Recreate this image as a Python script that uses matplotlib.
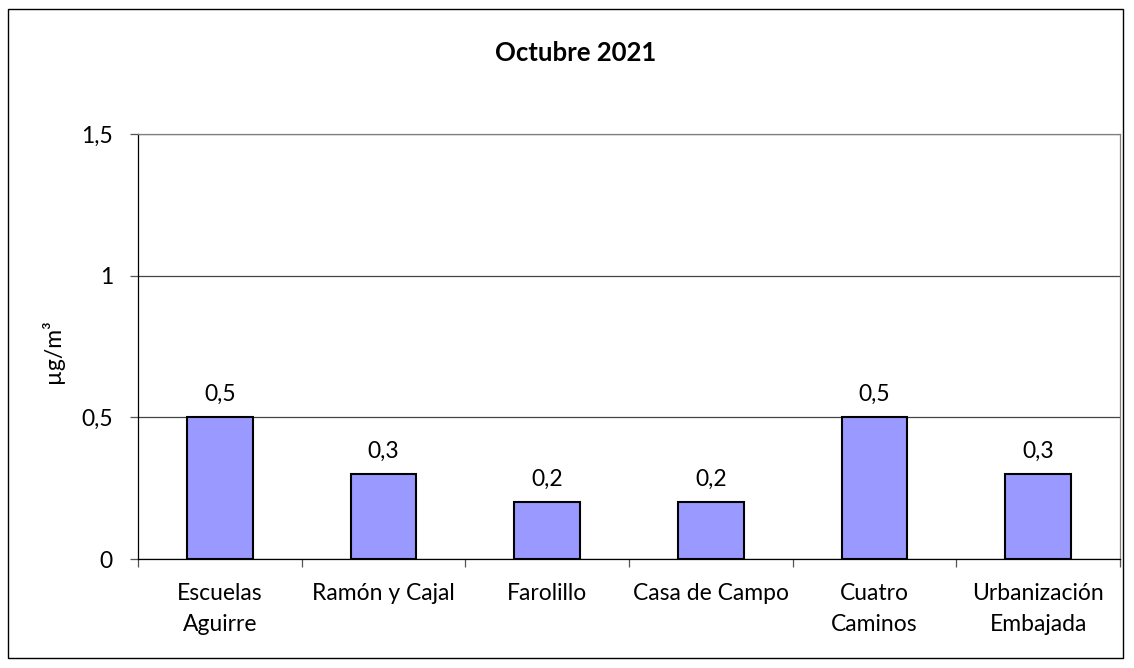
import matplotlib
matplotlib.use("Agg")
import matplotlib.pyplot as plt
from matplotlib.patches import Rectangle
from matplotlib.ticker import FuncFormatter, FixedLocator
import numpy as np

categories = ["Escuelas\nAguirre", "Ramón y Cajal", "Farolillo", "Casa de Campo",
              "Cuatro\nCaminos", "Urbanización\nEmbajada"]
values = [0.5, 0.3, 0.2, 0.2, 0.5, 0.3]
value_labels = ["0,5", "0,3", "0,2", "0,2", "0,5", "0,3"]
title = "Octubre 2021"
ylabel = "µg/m³"
yticks = [0, 0.5, 1, 1.5]

plt.rcParams['font.family'] = ['Lato', 'DejaVu Sans']
FS = 16.5

fig = plt.figure(figsize=(11.34, 6.68), dpi=100)
ax = fig.add_axes([138/1134, 1-559/668, (1120-138)/1134, (559-134)/668])

x = np.arange(len(categories))
bars = ax.bar(x, values, width=0.4, color="#9999FF", edgecolor="black", linewidth=1.5, zorder=3)
for xi, v, lab in zip(x, values, value_labels):
    ax.annotate(lab, (xi, v), xytext=(0, 9), textcoords="offset points",
                ha="center", va="bottom", fontsize=FS)

ax.set_xlim(-0.5, len(categories) - 0.5)
ax.set_ylim(0, 1.5)
ax.set_yticks(yticks)
ax.yaxis.set_major_formatter(FuncFormatter(lambda v, p: f"{v:g}".replace(".", ",")))
ax.yaxis.grid(True, color="#444444", linewidth=0.9, zorder=0)
ax.set_axisbelow(True)

ax.set_xticks(x)
ax.set_xticklabels(categories, fontsize=FS, linespacing=1.6)
ax.tick_params(axis="x", which="major", length=0, pad=17)
ax.xaxis.set_minor_locator(FixedLocator(np.arange(len(categories) + 1) - 0.5))
ax.tick_params(axis="x", which="minor", length=6, width=0.9, color="#555555")
ax.tick_params(axis="y", length=6, width=0.9, labelsize=FS, pad=12, color="#555555")

ax.set_ylabel(ylabel, fontsize=FS)
ax.yaxis.label.set_va("center")
ax.yaxis.set_label_coords((53 - 138) / 982, 0.49)

for s in ["left", "bottom"]:
    ax.spines[s].set_color("black")
    ax.spines[s].set_linewidth(0.9)
for s in ["top", "right"]:
    ax.spines[s].set_color("#808080")
    ax.spines[s].set_linewidth(0.9)

fig.text(576/1134, 1 - 53/668, title, ha="center", va="center", fontsize=18.5, fontweight="bold")

fig.patches.append(Rectangle((8/1134, 1-658/668), (1123-8)/1134, (658-9)/668,
                             transform=fig.transFigure, fill=False,
                             edgecolor="black", linewidth=1.0))

fig.savefig("out.png", dpi=100)
